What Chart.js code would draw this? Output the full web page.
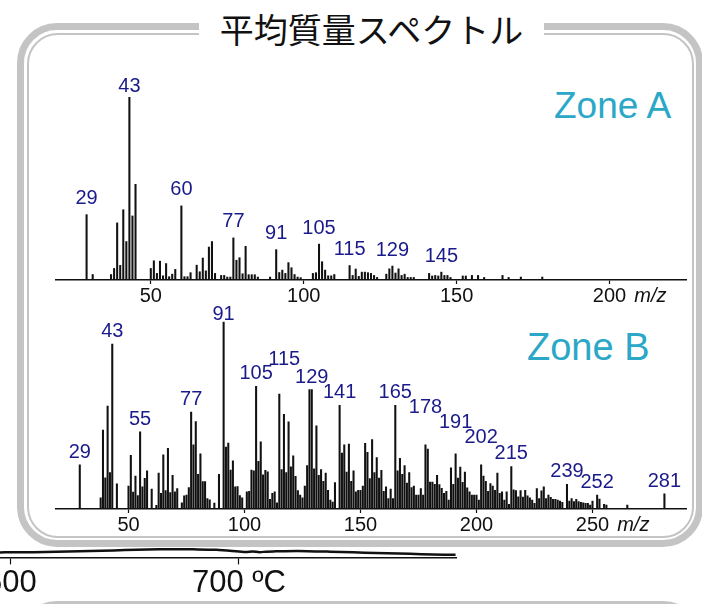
<!DOCTYPE html>
<html><head><meta charset="utf-8">
<script src="https://cdn.jsdelivr.net/npm/chart.js@4.4.0/dist/chart.umd.min.js"></script>
<style>
html,body{margin:0;padding:0;background:#fff;}
#stage{position:relative;width:702px;height:604px;overflow:hidden;background:#fff;}
.frame{position:absolute;box-sizing:border-box;border:7px solid #c4c4c4;border-radius:40px;}
.inner{position:absolute;box-sizing:border-box;border:2px solid #c4c4c4;border-radius:31px;}
#title{position:absolute;left:199px;top:8px;width:345px;height:42px;background:#fff;font-family:"Noto Sans CJK JP",sans-serif;font-size:34px;line-height:42px;text-align:center;color:#111;white-space:nowrap;}
.zone{position:absolute;font-family:"Liberation Sans",Arial,sans-serif;font-size:38px;line-height:38px;color:#2ba7c7;white-space:nowrap;}
canvas{position:absolute;left:0;top:0;}
</style></head>
<body>
<div id="stage">
  <div class="frame" style="left:17px;top:23px;width:686px;height:524px;"></div>
  <div class="inner" style="left:26.5px;top:32.5px;width:667px;height:505px;"></div>
  <div class="frame" style="left:17px;top:600.5px;width:686px;height:200px;"></div>
  <div id="title">平均質量スペクトル</div>
  <div class="zone" style="left:554px;top:87px;font-size:37px;">Zone A</div>
  <div class="zone" style="left:527px;top:328px;">Zone B</div>
  <canvas id="cA" width="702" height="604"></canvas>
  <canvas id="cB" width="702" height="604"></canvas>
  <canvas id="cT" width="702" height="604"></canvas>
</div>
<script>
// ---- Zone A spectrum (m/z, relative intensity %) ----
const mzA = [29,31,37,38,39,40,41,42,43,44,45,50,51,52,53,54,55,56,57,58,60,61,62,63,65,66,67,68,69,70,71,73,74,75,76,77,78,79,80,81,82,83,84,85,89,91,92,93,94,95,96,97,98,99,103,104,105,106,107,108,109,110,115,116,117,118,119,120,121,122,123,124,127,128,129,130,131,132,133,134,135,136,141,142,143,144,145,146,147,148,152,153,155,157,159,165,167,171,178];
const intA = [35.7,3,3,6.3,31.2,8,38.4,21,100,35,52.3,6.3,10.5,3.6,10.3,2.3,9,1.8,3.2,5.8,40.5,1.8,1.8,4,8.1,4.5,12,5,18,21,3.6,2.5,2.5,1.6,1.6,23,10.8,12.2,3.4,18.4,2.9,2.9,2.9,1.6,1.6,16.6,4.1,5.4,3.6,9.5,6.7,3,1.6,1.3,3.6,4,19.6,10,5.4,2.3,2.3,3,7.9,2.5,6,2,4.3,4.3,4,3.6,2.5,1.4,3.2,6.1,7.6,3.8,6.1,2.5,3.2,1.4,1.4,1.4,3.6,2.2,2.5,2.2,4.3,2.5,2.5,1.4,2.2,2.2,2.5,2.5,1.4,2.5,1.4,1.6,1.6];
const peaksA = [29,43,60,77,91,105,115,129,145];
const ticksA = [50,100,150,200];

// ---- Zone B spectrum ----
const mzB = [29,38,39,40,41,42,43,45,50,51,52,53,54,55,56,57,58,60,62,63,64,65,66,67,68,69,70,71,73,74,75,76,77,78,79,80,81,82,83,84,85,87,89,91,92,93,94,95,96,97,98,99,101,102,103,104,105,106,107,108,109,110,111,112,113,114,115,116,117,118,119,120,121,122,123,124,125,126,127,128,129,130,131,132,133,134,135,136,137,138,139,141,142,143,144,145,146,147,148,149,150,151,152,153,154,155,156,157,158,159,160,161,162,163,164,165,166,167,168,169,170,171,172,173,174,175,176,177,178,179,180,181,182,183,184,185,186,187,188,189,190,191,192,193,194,195,196,197,198,199,200,201,202,203,204,205,206,207,208,209,210,211,212,213,214,215,216,217,218,219,220,221,222,223,224,225,226,227,228,229,230,231,232,233,234,235,236,237,239,240,241,242,243,244,245,246,247,248,249,250,252,253,255,256,265,281];
const intB = [23.6,6,42.1,16.7,54.9,19.4,88,13.4,12.3,28.7,9,17.6,7.2,41.2,11.8,16.4,20.4,10.7,1.9,19.2,8.3,28.9,9.9,32.4,8.8,18,9.2,10.9,3.3,7,7.4,11.4,51.8,34.2,46.7,18.5,29.4,14.6,14.6,5.6,4.9,3.2,18.5,100,33.1,35.2,20.8,25.7,11.8,12,7.2,6,9.2,9.5,20.8,20.4,65.5,25.5,35.9,18.3,20.6,19.9,5.1,8.3,9.2,3.3,61.4,21,50.5,19.5,46.5,22.5,28.4,17.4,9.9,7.4,6,12.2,23.2,63.7,63.7,21.5,44.4,18,21,14.8,19.2,10,4.8,3.7,14.1,55.3,29.8,34.3,19.7,34.7,14.8,20.4,9.2,10,10,12.3,35,30.3,16.2,37,19.4,27.5,16.5,20.6,9.5,11.8,5.6,10.6,5.6,55.3,20.4,27,18.5,23.2,13.9,19.4,11.4,12.2,7.4,7.4,10.9,7.4,34.2,32,14.4,14.4,13.2,18,13,11,8.3,9.5,4.8,22,13.2,29.4,16.5,22.4,14.3,19.7,11.3,9.2,7.4,7.4,7.4,4.8,23.6,17.6,14.8,9.5,13.6,12.3,10,19.2,8.3,9.2,4.8,9.2,2.5,22.7,10.2,9.9,6.5,9.9,6.3,10,7,6,4.8,3,10.9,5.6,9.7,11.8,5.6,7.4,6.2,5.1,5.1,4.8,4.2,3.5,13.2,4.2,5.6,3.9,5.1,3.9,3.5,3.3,3,3,2.1,4.2,7.4,5.3,2.5,2.1,2.1,8.1];
const peaksB = [29,43,55,77,91,105,115,129,141,165,178,191,202,215,239,252,281];
const ticksB = [50,100,150,200,250];

// ---- temperature trace below ----
const tempC = [595,600,610,620,630,640,650,660,670,680,690,700,703,706,709,712,716,720,730,740,750,760,770,780,790,795];
const tempSignal = [5.7,5.8,6.0,6.4,6.9,7.5,8.1,8.7,9.0,8.9,8.4,6.7,6.1,6.6,6.0,6.5,6.8,7.0,7.0,6.5,5.8,5.1,4.5,3.9,3.4,3.4];
const ticksT = [600,700];
const tickTextT = {600:'600',700:'700 ºC'};

Chart.defaults.font.family = '"Liberation Sans", Arial, sans-serif';
Chart.defaults.color = '#111';

const peakLabelPlugin = {
  id: 'peakLabels',
  afterDatasetsDraw(chart, args, opts) {
    const ctx = chart.ctx, xs = chart.scales.x, ys = chart.scales.y;
    const pts = chart.data.datasets[0].data;
    ctx.save();
    ctx.font = opts.font; ctx.fillStyle = opts.color;
    ctx.textAlign = 'center'; ctx.textBaseline = 'middle';
    opts.labels.forEach(mz => {
      const p = pts.find(q => q.x === mz);
      const adj = (opts.adjust && opts.adjust[mz]) || {};
      const x = xs.getPixelForValue(mz) + (adj.dx || 0);
      const y = ys.getPixelForValue(p.y) - opts.gap - (adj.lift || 0);
      ctx.fillText(String(mz), x, y);
    });
    // "m/z" unit after last tick label
    ctx.font = '20px "Liberation Sans", Arial, sans-serif';
    const w = ctx.measureText(String(opts.unitAt)).width;
    ctx.font = 'italic 20px "Liberation Sans", Arial, sans-serif';
    ctx.fillStyle = '#111'; ctx.textAlign = 'left';
    ctx.fillText('m/z', xs.getPixelForValue(opts.unitAt) + w / 2 + 8, xs.top + 16);
    ctx.restore();
  }
};

function zoneChart(id, mz, inten, tickVals, xmin, xmax, pad, labelOpts) {
  return new Chart(document.getElementById(id), {
    type: 'bar',
    data: { datasets: [{ data: mz.map((m, i) => ({x: m, y: inten[i]})), backgroundColor: '#111', borderWidth: 0, barThickness: 1.4, grouped: false }] },
    options: {
      responsive: false, animation: false, events: [],
      layout: { padding: pad },
      plugins: { legend: {display: false}, tooltip: {enabled: false}, title: {display: false}, peakLabels: labelOpts },
      scales: {
        x: {
          type: 'linear', min: xmin, max: xmax, offset: false,
          afterBuildTicks: s => { s.ticks = tickVals.map(v => ({value: v})); },
          afterFit: s => { s.paddingLeft = 0; s.paddingRight = 0; },
          grid: { display: true, offset: false, drawOnChartArea: false, drawTicks: true, tickLength: 4, tickWidth: 1.2, tickColor: '#111' },
          border: { display: true, color: '#111', width: 1.5 },
          ticks: { autoSkip: false, maxRotation: 0, padding: 2, color: '#111', font: {size: 20, lineHeight: 1} }
        },
        y: { display: false, min: 0, max: 100 }
      }
    },
    plugins: [peakLabelPlugin]
  });
}

zoneChart('cA', mzA, intA, ticksA, 19, 225, {left: 56, right: 16, top: 97, bottom: 296}, {
  labels: peaksA, font: '20px "Liberation Sans", Arial, sans-serif', color: '#1a1a8a', gap: 16,
  adjust: {43: {lift: -5}}, unitAt: 200
});
zoneChart('cB', mzB, intB, ticksB, 18.75, 290.3, {left: 56, right: 16, top: 321.7, bottom: 67}, {
  labels: peaksB, font: '20px "Liberation Sans", Arial, sans-serif', color: '#1a1a8a', gap: 12.7,
  adjust: {91: {lift: -5}, 115: {lift: 22.3, dx: 5}, 178: {lift: 25}, 191: {lift: 18.3}, 202: {lift: 15}}, unitAt: 250
});

new Chart(document.getElementById('cT'), {
  type: 'line',
  data: { datasets: [{ data: tempC.map((t, i) => ({x: t, y: tempSignal[i]})), borderColor: '#111', borderWidth: 2.5, pointRadius: 0, tension: 0.35, fill: false, clip: false }] },
  options: {
    responsive: false, animation: false, events: [],
    layout: { padding: {left: 0, right: 245.3, top: 461.7, bottom: 1} },
    plugins: { legend: {display: false}, tooltip: {enabled: false} },
    scales: {
      x: {
        type: 'linear', min: 595.2, max: 795.5, offset: false,
        afterBuildTicks: s => { s.ticks = ticksT.map(v => ({value: v})); },
        afterFit: s => { s.paddingLeft = 0; s.paddingRight = 0; },
        grid: { display: true, drawOnChartArea: false, drawTicks: true, tickLength: 6.5, tickWidth: 1.2, tickColor: '#111' },
        border: { display: true, color: '#111', width: 1.5 },
        ticks: { autoSkip: false, maxRotation: 0, padding: 3.8, color: '#111', font: {size: 31, lineHeight: 1}, callback: v => tickTextT[v] }
      },
      y: { display: false, min: 0, max: 100 }
    }
  }
});
</script>
</body></html>
